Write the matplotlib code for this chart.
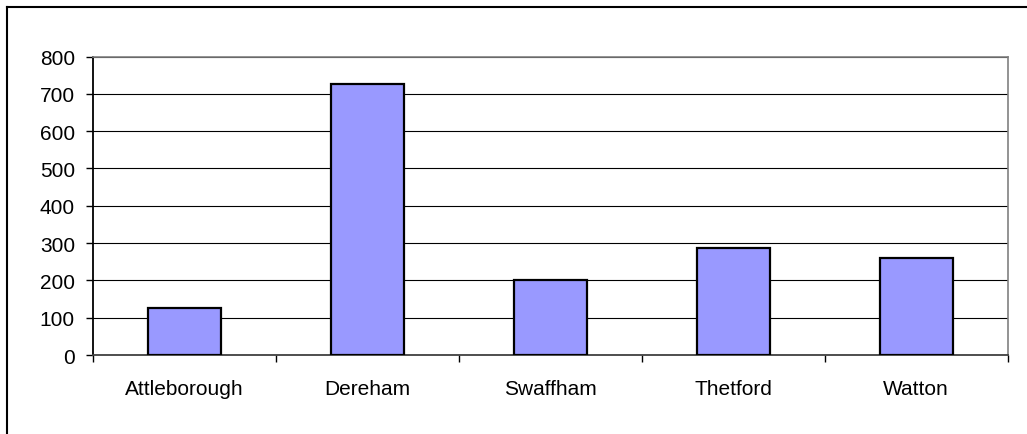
import matplotlib
matplotlib.use("Agg")
import matplotlib.pyplot as plt
from matplotlib.lines import Line2D
from matplotlib.ticker import FixedLocator, MultipleLocator

categories = ["Attleborough", "Dereham", "Swaffham", "Thetford", "Watton"]
values = [125, 727, 201, 287, 260]
yticks = [0, 100, 200, 300, 400, 500, 600, 700, 800]

W, H = 1027, 435
fig = plt.figure(figsize=(W / 100, H / 100), dpi=100)
plt.rcParams['font.family'] = ['Liberation Sans', 'DejaVu Sans']

ax = fig.add_axes([93 / W, 1 - 356 / H, (1007.7 - 93) / W, (356 - 57.5) / H])
x = list(range(len(categories)))
ax.bar(x, values, width=0.40, color="#9999FF", edgecolor="black", linewidth=1.6, zorder=3)

ax.set_xlim(-0.5, len(categories) - 0.5)
ax.set_ylim(0, 800)
ax.set_yticks(yticks)
ax.set_yticklabels([str(v) for v in yticks])
ax.yaxis.grid(True, color="black", linewidth=0.8, zorder=0)
ax.set_axisbelow(True)

ax.set_xticks(x)
ax.set_xticklabels(categories)
ax.xaxis.set_minor_locator(FixedLocator([i - 0.5 for i in range(len(categories) + 1)]))
ax.tick_params(axis="x", which="major", length=0, pad=17, labelsize=15)
ax.tick_params(axis="x", which="minor", length=5, width=1, color="black", direction="out")
ax.tick_params(axis="y", which="major", length=5, width=1, color="black", direction="out", pad=8, labelsize=15)

for s in ["top", "right"]:
    ax.spines[s].set_color("#808080")
    ax.spines[s].set_linewidth(1.2)
ax.spines["left"].set_color("black")
ax.spines["left"].set_linewidth(1.3)
ax.spines["bottom"].set_color("#404040")
ax.spines["bottom"].set_linewidth(1.3)

# outer chart border (top and left visible)
fig.add_artist(Line2D([7 / W, 1.0], [1 - 8 / H, 1 - 8 / H], transform=fig.transFigure, color="black", linewidth=1.5))
fig.add_artist(Line2D([7 / W, 7 / W], [0.0, 1 - 8 / H], transform=fig.transFigure, color="black", linewidth=1.5))

fig.savefig("out.png", dpi=100, facecolor="white")
